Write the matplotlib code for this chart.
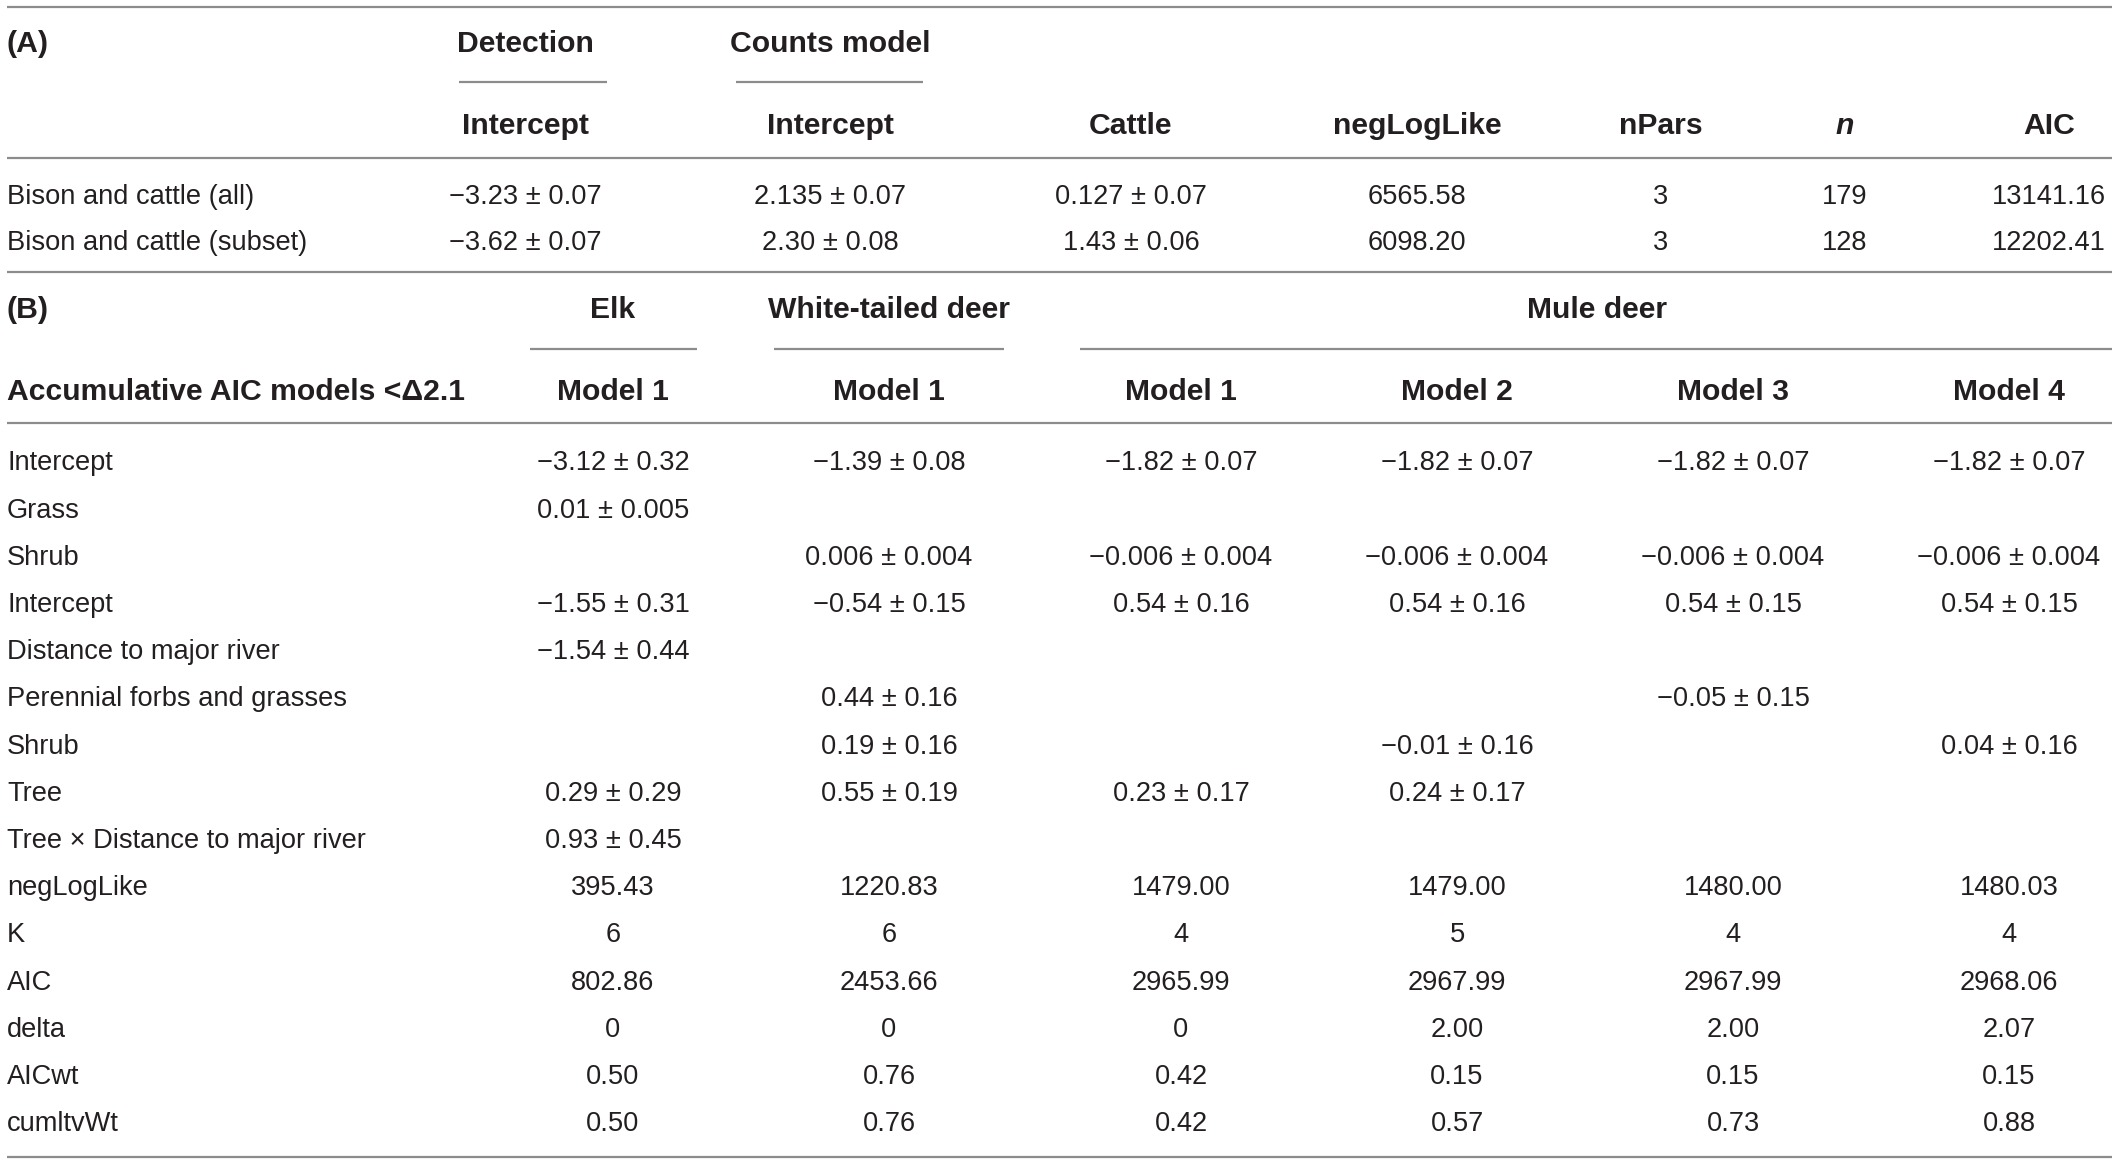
import matplotlib
matplotlib.use("Agg")
import matplotlib.pyplot as plt

plt.rcParams['font.family'] = ['Liberation Sans', 'DejaVu Sans']

# ---- part (A) data ----
a_rows = ["Bison and cattle (all)", "Bison and cattle (subset)"]
a_detect = ["\u22123.23 \u00b1 0.07", "\u22123.62 \u00b1 0.07"]
a_count_int = ["2.135 \u00b1 0.07", "2.30 \u00b1 0.08"]
a_cattle = ["0.127 \u00b1 0.07", "1.43 \u00b1 0.06"]
a_negloglike = ["6565.58", "6098.20"]
a_npars = ["3", "3"]
a_n = ["179", "128"]
a_aic = ["13141.16", "12202.41"]

# ---- part (B) data ----
b_rows = ["Intercept", "Grass", "Shrub", "Intercept", "Distance to major river",
          "Perennial forbs and grasses", "Shrub", "Tree",
          "Tree \u00d7 Distance to major river", "negLogLike", "K", "AIC",
          "delta", "AICwt", "cumltvWt"]
b_groups = ["Elk", "White-tailed deer", "Mule deer"]
b_models = ["Model 1", "Model 1", "Model 1", "Model 2", "Model 3", "Model 4"]
pm = " \u00b1 "
m = "\u2212"
elk_m1 = [m + "3.12" + pm + "0.32", "0.01" + pm + "0.005", "", m + "1.55" + pm + "0.31",
          m + "1.54" + pm + "0.44", "", "", "0.29" + pm + "0.29", "0.93" + pm + "0.45",
          "395.43", "6", "802.86", "0", "0.50", "0.50"]
wtd_m1 = [m + "1.39" + pm + "0.08", "", "0.006" + pm + "0.004", m + "0.54" + pm + "0.15",
          "", "0.44" + pm + "0.16", "0.19" + pm + "0.16", "0.55" + pm + "0.19", "",
          "1220.83", "6", "2453.66", "0", "0.76", "0.76"]
mule_m1 = [m + "1.82" + pm + "0.07", "", m + "0.006" + pm + "0.004", "0.54" + pm + "0.16",
           "", "", "", "0.23" + pm + "0.17", "",
           "1479.00", "4", "2965.99", "0", "0.42", "0.42"]
mule_m2 = [m + "1.82" + pm + "0.07", "", m + "0.006" + pm + "0.004", "0.54" + pm + "0.16",
           "", "", m + "0.01" + pm + "0.16", "0.24" + pm + "0.17", "",
           "1479.00", "5", "2967.99", "2.00", "0.15", "0.57"]
mule_m3 = [m + "1.82" + pm + "0.07", "", m + "0.006" + pm + "0.004", "0.54" + pm + "0.15",
           "", m + "0.05" + pm + "0.15", "", "", "",
           "1480.00", "4", "2967.99", "2.00", "0.15", "0.73"]
mule_m4 = [m + "1.82" + pm + "0.07", "", m + "0.006" + pm + "0.004", "0.54" + pm + "0.15",
           "", "", "0.04" + pm + "0.16", "", "",
           "1480.03", "4", "2968.06", "2.07", "0.15", "0.88"]

W, H = 2118, 1164
TXT = "#231f20"
LINE = "#8c8c8c"
FS = 19.6
FSB = 21.7
DY = 2.5  # text sits a little below the row centre

fig = plt.figure(figsize=(W / 100, H / 100), dpi=100)
ax = fig.add_axes([0, 0, 1, 1])
ax.set_xlim(0, W)
ax.set_ylim(H, 0)
ax.axis("off")


def hline(y, x0=7, x1=2112):
    ax.plot([x0, x1], [y, y], color=LINE, lw=1.6, solid_capstyle="butt")


def txt(x, y, s, bold=False, ha="center", italic=False):
    ax.text(x, y + DY, s, ha=ha, va="center", color=TXT,
            fontsize=FSB if bold else FS,
            fontweight="bold" if bold else "normal",
            fontstyle="italic" if italic else "normal")


# ---- part (A) ----
hline(7)
txt(7, 41, "(A)", bold=True, ha="left")
a_cols = [525, 830, 1131, 1417, 1661, 1845, 2049]
txt(a_cols[0], 41, "Detection", bold=True)
txt(a_cols[1], 41, "Counts model", bold=True)
hline(82, 459, 607)
hline(82, 736, 923)
a_heads = ["Intercept", "Intercept", "Cattle", "negLogLike", "nPars", "n", "AIC"]
for x, h in zip(a_cols, a_heads):
    txt(x, 123, h, bold=True, italic=(h == "n"))
hline(158)
a_data = [a_detect, a_count_int, a_cattle, a_negloglike, a_npars, a_n, a_aic]
for i, (y, lab) in enumerate(zip([194, 241], a_rows)):
    txt(7, y, lab, ha="left")
    for x, col in zip(a_cols, a_data):
        txt(x, y, col[i])
hline(272)

# ---- part (B) ----
txt(7, 307, "(B)", bold=True, ha="left")
txt(613, 307, b_groups[0], bold=True)
txt(889, 307, b_groups[1], bold=True)
txt(1597, 307, b_groups[2], bold=True)
hline(349, 530, 697)
hline(349, 774, 1004)
hline(349, 1080, 2112)
b_cols = [613, 889, 1181, 1457, 1733, 2009]
txt(7, 389, "Accumulative AIC models <\u03942.1", bold=True, ha="left")
for x, h in zip(b_cols, b_models):
    txt(x, 389, h, bold=True)
hline(423)
b_data = [elk_m1, wtd_m1, mule_m1, mule_m2, mule_m3, mule_m4]
y0, dy = 461, 47.2
for i, lab in enumerate(b_rows):
    y = y0 + i * dy
    txt(7, y, lab, ha="left")
    for x, col in zip(b_cols, b_data):
        if col[i]:
            txt(x, y, col[i])
hline(1157)

fig.savefig("out.png", dpi=100)
